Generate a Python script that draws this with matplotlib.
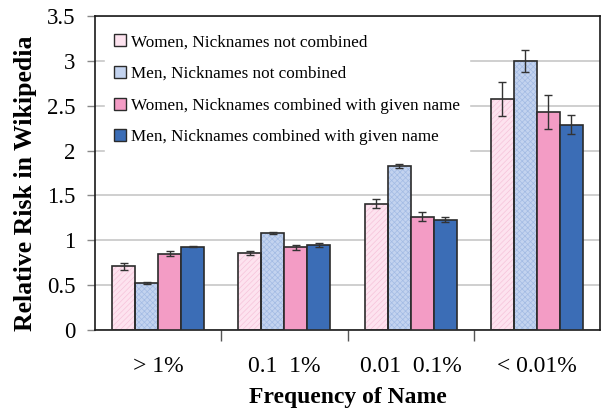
import matplotlib
matplotlib.use("Agg")
import matplotlib.pyplot as plt
from matplotlib.patches import Patch
import numpy as np

categories = ["> 1%", "0.1  1%", "0.01  0.1%", "< 0.01%"]
series_names = ["Women, Nicknames not combined",
                "Men, Nicknames not combined",
                "Women, Nicknames combined with given name",
                "Men, Nicknames combined with given name"]
women_nc = [0.71, 0.86, 1.41, 2.57]
men_nc = [0.52, 1.08, 1.83, 3.00]
women_c = [0.85, 0.92, 1.26, 2.43]
men_c = [0.93, 0.95, 1.23, 2.29]
women_nc_err = [0.04, 0.02, 0.05, 0.19]
men_nc_err = [0.01, 0.015, 0.02, 0.12]
women_c_err = [0.03, 0.025, 0.05, 0.19]
men_c_err = [0.01, 0.02, 0.03, 0.11]
y_ticks = [0, 0.5, 1, 1.5, 2, 2.5, 3, 3.5]
y_tick_labels = ["0", "0.5", "1", "1.5", "2", "2.5", "3", "3.5"]

values = [women_nc, men_nc, women_c, men_c]
errors = [women_nc_err, men_nc_err, women_c_err, men_c_err]
faces = ["#fde3ef", "#c3d3ef", "#f39cc5", "#3b6db6"]
hatches = ["//////", "xxxxxx", None, None]
hatch_cols = ["#f6c3da", "#a3bbe4", None, None]
edge = "#2b2b2b"

plt.rcParams['font.family'] = ['Liberation Serif', 'DejaVu Serif']
plt.rcParams['hatch.linewidth'] = 0.5

fig = plt.figure(figsize=(6.02, 4.09), dpi=100)
ax = fig.add_axes([95/602, 79/409, 505/602, 314/409])

x = np.arange(len(categories))
w = 0.182
offsets = (np.arange(4) - 1.5) * w
handles = []
for i in range(4):
    xs = x + offsets[i]
    if hatches[i]:
        ax.bar(xs, values[i], width=w, color=faces[i], hatch=hatches[i],
               edgecolor=hatch_cols[i], linewidth=0, zorder=2)
        ax.bar(xs, values[i], width=w, fill=False, edgecolor=edge,
               linewidth=1.2, zorder=3)
    else:
        ax.bar(xs, values[i], width=w, color=faces[i], edgecolor=edge,
               linewidth=1.2, zorder=3)
    ax.errorbar(xs, values[i], yerr=errors[i], fmt='none', ecolor='#333333',
                elinewidth=1.0, capsize=3, capthick=1.0, zorder=4)
    handles.append(Patch(facecolor=faces[i], edgecolor=edge, linewidth=1.0,
                         label=series_names[i]))

ax.set_xlim(-0.5, len(categories) - 0.5)
ax.set_ylim(0, 3.5)
ax.set_yticks(y_ticks)
ax.set_yticklabels(y_tick_labels, fontsize=16.5)
ax.yaxis.grid(True, color='#cccccc', linewidth=1.3, zorder=0)
ax.set_axisbelow(True)
ax.tick_params(axis='y', direction='out', length=6, width=1, color='#888888', pad=8)

ax.set_xticks(np.arange(len(categories) - 1) + 0.5)
ax.set_xticklabels([])
ax.tick_params(axis='x', which='major', direction='out', length=8, width=1, color='#555555')
ax.set_xticks(x, minor=True)
ax.set_xticklabels(categories, minor=True, fontsize=17)
ax.tick_params(axis='x', which='minor', length=0, pad=19)

for s in ax.spines.values():
    s.set_color('#1a1a1a')
    s.set_linewidth(1.2)

ax.set_ylabel("Relative Risk in Wikipedia", fontsize=18.5, fontweight='bold', labelpad=7)
ax.yaxis.label.set_y(0.468)
ax.set_xlabel("Frequency of Name", fontsize=17, fontweight='bold', labelpad=7)

leg = ax.legend(handles=handles, loc='upper left', bbox_to_anchor=(0.014, 0.98),
                fontsize=12.3, frameon=True, fancybox=False, framealpha=1,
                edgecolor='white', facecolor='white', handlelength=0.7,
                handleheight=0.7, handletextpad=0.3, labelspacing=0.92,
                borderpad=0.5, borderaxespad=0.2)
leg.set_zorder(5)

fig.savefig("out.png", dpi=100)
